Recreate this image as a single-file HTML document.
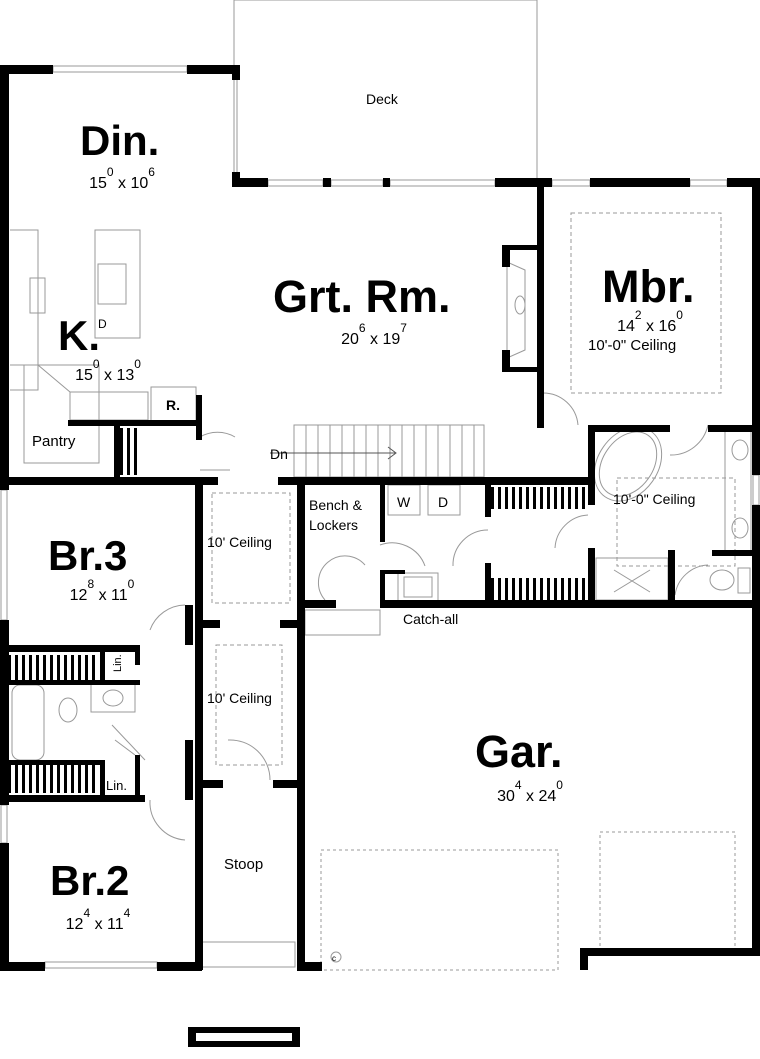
<!DOCTYPE html>
<html><head><style>
html,body{margin:0;padding:0;background:#fff}
svg{display:block}
text{font-family:"Liberation Sans",Arial,sans-serif;fill:#000}
.b{font-weight:bold}
.d{font-size:16px;text-anchor:middle}
.d tspan.s{font-size:12px}
</style></head><body>
<svg width="760" height="1059" viewBox="0 0 760 1059" xmlns="http://www.w3.org/2000/svg">
<defs><pattern id="h" width="7" height="10" patternUnits="userSpaceOnUse"><rect x="1" y="0" width="3" height="10" fill="#000"/></pattern></defs>
<g fill="none" stroke="#999" stroke-width="1">
<path d="M234 180 V0 H537 V180"/><path d="M237 80 V172"/>
<rect x="53" y="66" width="134" height="6"/>
<rect x="268" y="180" width="55" height="6"/><rect x="331" y="180" width="52" height="6"/><rect x="390" y="180" width="105" height="6"/>
<rect x="552" y="180" width="38" height="6"/><rect x="690" y="180" width="37" height="6"/>
<rect x="753" y="475" width="6" height="30"/>
<rect x="1" y="490" width="6" height="130"/><rect x="1" y="805" width="6" height="38"/>
<rect x="45" y="962" width="112" height="6"/>
<rect x="294" y="425" width="190" height="52"/>
<path d="M306 425V477M318 425V477M330 425V477M342 425V477M354 425V477M366 425V477M378 425V477M390 425V477M402 425V477M414 425V477M426 425V477M438 425V477M450 425V477M462 425V477M474 425V477"/>
<path d="M270 453 H395 M388 447 L396 453 L388 459" stroke="#555"/>
<path d="M10 230 H38 V390 H10"/><rect x="30" y="278" width="15" height="35"/>
<rect x="95" y="230" width="45" height="108"/><rect x="98" y="264" width="28" height="40"/>
<path d="M10 365 H38 L70 392 V420 H148 V392"/><rect x="70" y="392" width="78" height="30"/>
<rect x="151" y="387" width="45" height="37"/>
<rect x="24" y="365" width="75" height="98"/>
<path d="M507 262 L525 270 V350 L507 358 Z"/><ellipse cx="520" cy="305" rx="5" ry="9"/>
<rect x="571" y="213" width="150" height="180" stroke-dasharray="4 3"/>
<rect x="617" y="478" width="118" height="88" stroke-dasharray="4 3"/>
<rect x="212" y="493" width="78" height="110" stroke-dasharray="4 3"/>
<rect x="216" y="645" width="66" height="120" stroke-dasharray="4 3"/>
<ellipse cx="628" cy="464" rx="30" ry="40" transform="rotate(35 628 464)"/>
<ellipse cx="628" cy="464" rx="25" ry="35" transform="rotate(35 628 464)"/>
<rect x="596" y="558" width="72" height="42"/><path d="M614 570L650 592M650 570L614 592"/>
<rect x="725" y="428" width="26" height="125"/><ellipse cx="740" cy="450" rx="8" ry="10"/><ellipse cx="740" cy="528" rx="8" ry="10"/>
<ellipse cx="722" cy="580" rx="12" ry="10"/><rect x="738" y="568" width="12" height="25"/>
<rect x="388" y="485" width="32" height="30"/><rect x="428" y="485" width="32" height="30"/>
<rect x="398" y="573" width="40" height="28"/><rect x="404" y="577" width="28" height="20"/>
<rect x="12" y="685" width="32" height="75" rx="8"/><ellipse cx="68" cy="710" rx="9" ry="12"/><rect x="91" y="684" width="44" height="28"/><ellipse cx="113" cy="698" rx="10" ry="8"/>
<rect x="321" y="850" width="237" height="120" stroke-dasharray="3 3"/>
<rect x="600" y="832" width="135" height="120" stroke-dasharray="3 3"/>
<rect x="201" y="942" width="94" height="25"/><rect x="305" y="610" width="75" height="25"/>
<circle cx="336" cy="957" r="5"/>
<path d="M200 437 A35 35 0 0 1 235 437 M200 470 H230"/>
<path d="M543 393 A35 35 0 0 1 578 425"/>
<path d="M670 455 A38 38 0 0 0 708 425"/>
<path d="M555 548 A35 35 0 0 1 588 515"/>
<path d="M380 545 A35 35 0 0 1 425 566"/><path d="M453 566 A35 35 0 0 1 488 530"/>
<path d="M325 600 A25 25 0 0 1 365 565"/>
<path d="M228 740 A40 40 0 0 1 270 780"/>
<path d="M150 630 A38 38 0 0 1 185 605"/><path d="M150 800 A38 38 0 0 0 185 840"/>
<path d="M115 740 L135 755 M112 725 L145 760"/>
<path d="M675 595 A35 35 0 0 1 708 565"/>
</g>
<g fill="#000">
<rect x="0" y="65" width="9" height="425"/><rect x="0" y="620" width="9" height="185"/><rect x="0" y="843" width="9" height="127"/>
<rect x="0" y="65" width="53" height="9"/><rect x="187" y="65" width="53" height="9"/>
<rect x="232" y="65" width="8" height="15"/><rect x="232" y="172" width="8" height="15"/>
<rect x="232" y="178" width="36" height="9"/><rect x="323" y="178" width="8" height="9"/><rect x="383" y="178" width="7" height="9"/>
<rect x="495" y="178" width="57" height="9"/><rect x="590" y="178" width="100" height="9"/><rect x="727" y="178" width="33" height="9"/>
<rect x="752" y="178" width="8" height="297"/><rect x="752" y="505" width="8" height="450"/>
<rect x="537" y="180" width="7" height="248"/><rect x="502" y="245" width="8" height="22"/><rect x="502" y="350" width="8" height="22"/><rect x="502" y="245" width="35" height="5"/><rect x="502" y="367" width="35" height="5"/>
<rect x="0" y="962" width="45" height="9"/><rect x="157" y="962" width="45" height="9"/>
<rect x="195" y="478" width="8" height="492"/>
<rect x="297" y="478" width="8" height="492"/><rect x="297" y="962" width="25" height="9"/>
<rect x="580" y="948" width="8" height="22"/><rect x="580" y="948" width="180" height="8"/>
<rect x="0" y="477" width="218" height="8"/><rect x="278" y="477" width="310" height="8"/>
<rect x="68" y="420" width="130" height="6"/><rect x="196" y="395" width="6" height="45"/>
<rect x="114" y="425" width="6" height="52"/>
<rect x="300" y="600" width="36" height="8"/><rect x="380" y="600" width="380" height="8"/>
<rect x="588" y="425" width="82" height="7"/><rect x="708" y="425" width="44" height="7"/>
<rect x="588" y="425" width="7" height="80"/><rect x="588" y="548" width="7" height="60"/>
<rect x="668" y="550" width="7" height="55"/><rect x="712" y="550" width="40" height="6"/>
<rect x="485" y="477" width="6" height="40"/><rect x="485" y="563" width="6" height="40"/>
<rect x="380" y="477" width="5" height="65"/>
<rect x="380" y="570" width="5" height="36"/><rect x="380" y="570" width="25" height="4"/>
<rect x="195" y="620" width="25" height="8"/><rect x="280" y="620" width="20" height="8"/>
<rect x="195" y="780" width="28" height="8"/><rect x="273" y="780" width="27" height="8"/>
<rect x="185" y="605" width="8" height="40"/><rect x="185" y="740" width="8" height="60"/>
<rect x="0" y="645" width="140" height="7"/><rect x="0" y="680" width="140" height="5"/><rect x="100" y="645" width="5" height="40"/><rect x="135" y="645" width="5" height="20"/>
<rect x="0" y="760" width="105" height="5"/><rect x="0" y="795" width="145" height="7"/><rect x="100" y="760" width="5" height="40"/><rect x="135" y="755" width="5" height="45"/>
<rect x="8" y="655" width="90" height="25" fill="url(#h)"/><rect x="8" y="765" width="90" height="28" fill="url(#h)"/>
<rect x="490" y="487" width="95" height="22" fill="url(#h)"/><rect x="490" y="578" width="95" height="22" fill="url(#h)"/>
<rect x="120" y="428" width="20" height="47" fill="url(#h)"/>
<rect x="188" y="1027" width="112" height="20"/>
</g>
<rect x="196" y="1033" width="96" height="8" fill="#fff"/>
<text x="80" y="155" font-size="42" class="b">Din.</text>
<text x="122" y="188" class="d">15<tspan class="s" dy="-12">0</tspan><tspan dy="12"> x 10</tspan><tspan class="s" dy="-12">6</tspan></text>
<text x="273" y="312" font-size="45" class="b">Grt. Rm.</text>
<text x="374" y="344" class="d">20<tspan class="s" dy="-12">6</tspan><tspan dy="12"> x 19</tspan><tspan class="s" dy="-12">7</tspan></text>
<text x="602" y="302" font-size="45" class="b">Mbr.</text>
<text x="650" y="331" class="d">14<tspan class="s" dy="-12">2</tspan><tspan dy="12"> x 16</tspan><tspan class="s" dy="-12">0</tspan></text>
<text x="588" y="350" font-size="15">10'-0" Ceiling</text>
<text x="58" y="350" font-size="42" class="b">K.</text>
<text x="98" y="328" font-size="12">D</text>
<text x="108" y="380" class="d">15<tspan class="s" dy="-12">0</tspan><tspan dy="12"> x 13</tspan><tspan class="s" dy="-12">0</tspan></text>
<text x="166" y="410" font-size="14" class="b">R.</text>
<text x="32" y="446" font-size="15">Pantry</text>
<text x="270" y="459" font-size="14">Dn</text>
<text x="309" y="510" font-size="14">Bench &amp;</text><text x="309" y="530" font-size="14">Lockers</text>
<text x="397" y="507" font-size="14">W</text><text x="438" y="507" font-size="14">D</text>
<text x="403" y="624" font-size="14">Catch-all</text>
<text x="613" y="504" font-size="14">10'-0" Ceiling</text>
<text x="207" y="547" font-size="14">10' Ceiling</text>
<text x="207" y="703" font-size="14">10' Ceiling</text>
<text x="48" y="570" font-size="42" class="b">Br.3</text>
<text x="102" y="600" class="d">12<tspan class="s" dy="-12">8</tspan><tspan dy="12"> x 11</tspan><tspan class="s" dy="-12">0</tspan></text>
<text x="108" y="669" font-size="11" transform="rotate(-90 116 664)">Lin.</text>
<text x="106" y="790" font-size="13">Lin.</text>
<text x="50" y="895" font-size="42" class="b">Br.2</text>
<text x="98" y="929" class="d">12<tspan class="s" dy="-12">4</tspan><tspan dy="12"> x 11</tspan><tspan class="s" dy="-12">4</tspan></text>
<text x="224" y="869" font-size="15">Stoop</text>
<text x="475" y="767" font-size="45" class="b">Gar.</text>
<text x="530" y="801" class="d">30<tspan class="s" dy="-12">4</tspan><tspan dy="12"> x 24</tspan><tspan class="s" dy="-12">0</tspan></text>
<text x="332" y="961" font-size="8">c</text>
<text x="366" y="104" font-size="14">Deck</text>
</svg>
</body></html>
